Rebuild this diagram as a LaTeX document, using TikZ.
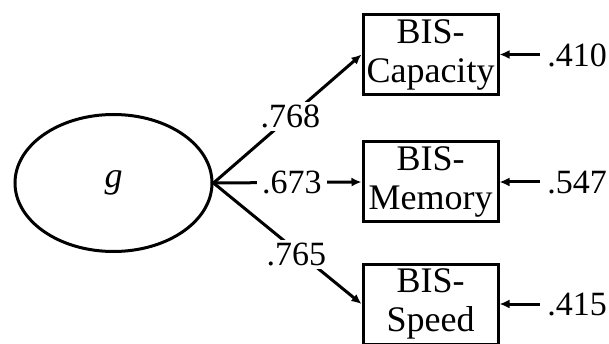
\documentclass[tikz,border=0pt]{standalone}
\usepackage{fontspec}
\setmainfont{Liberation Serif}
\usetikzlibrary{arrows.meta,shapes.geometric}
\begin{document}
\begin{tikzpicture}[x=1pt,y=-1pt,
  txt/.style={font=\fontsize{36}{39}\selectfont},
  num/.style={font=\fontsize{34}{39}\selectfont},
  latent/.style={draw,line width=3pt,ellipse,minimum width=197pt,minimum height=137pt,inner sep=0pt},
  obs/.style={draw,line width=3pt,rectangle,minimum width=135pt,minimum height=80pt,inner sep=0pt,align=center,txt},
  load/.style={line width=3pt,-{Latex[length=10pt,width=9pt]}},
  lbl/.style={fill=white,inner sep=3pt,num}]
\useasboundingbox (0,0) rectangle (609,344);
\node[latent] (g) at (113.5,183) {\fontsize{36}{39}\selectfont\itshape g};
\node[obs] (cap) at (430.5,54.5) {BIS-\\Capacity};
\node[obs] (mem) at (430.5,182) {BIS-\\Memory};
\node[obs] (spd) at (430.5,304) {BIS-\\Speed};
\draw[load] (g.east) -- node[lbl,pos=0.52] {.768} (cap.west);
\draw[load] (g.east) -- node[lbl,pos=0.53,inner xsep=5pt] {.673} (mem.west);
\draw[load] (g.east) -- node[lbl,pos=0.56,yshift=-4pt] {.765} (spd.west);
\coordinate (ec) at (540,54.5);
\coordinate (em) at (540,182);
\coordinate (es) at (540,304);
\draw[load] (ec) -- (cap.east);
\draw[load] (em) -- (mem.east);
\draw[load] (es) -- (spd.east);
\node[num,anchor=east,inner sep=0pt] (rc) at (607,55) {.410};
\node[num,anchor=east,inner sep=0pt] (rm) at (607,183) {.547};
\node[num,anchor=east,inner sep=0pt] (rs) at (607,305) {.415};
\end{tikzpicture}
\end{document}
